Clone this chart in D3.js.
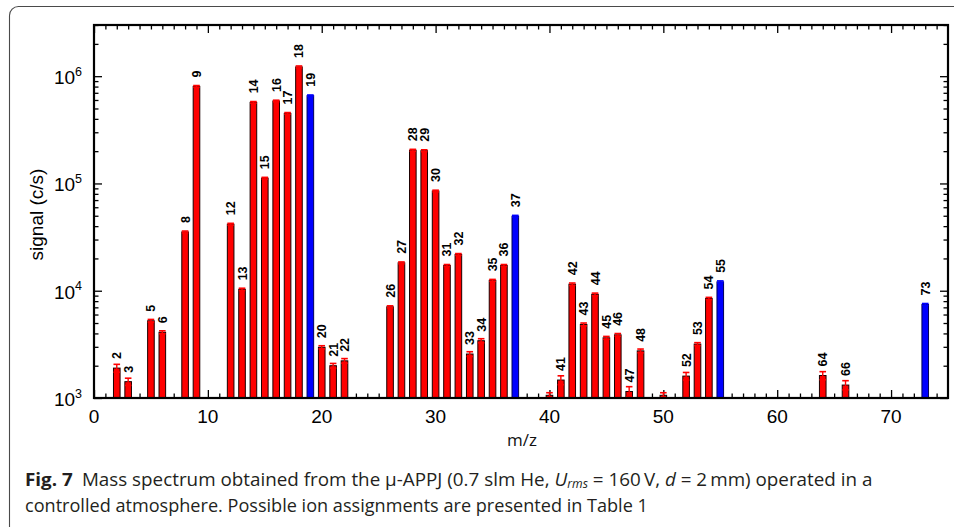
<!DOCTYPE html>
<html>
<head>
<meta charset="utf-8">
<script src="https://cdn.jsdelivr.net/npm/d3@7"></script>
<style>
  html, body { margin: 0; padding: 0; background: #fff; }
  svg { display: block; }
</style>
</head>
<body>
<svg id="chart" width="954" height="527"></svg>
<script>
// Mass spectrum: peak m/z, signal (counts/s) and uncertainty
const mz = [2, 3, 5, 6, 8, 9, 12, 13, 14, 15, 16, 17, 18, 19, 20, 21, 22,
            26, 27, 28, 29, 30, 31, 32, 33, 34, 35, 36, 37, 40, 41, 42, 43,
            44, 45, 46, 47, 48, 50, 52, 53, 54, 55, 64, 66, 73];
const signal = [1900, 1420, 5250, 4100, 35300, 803000, 41700, 10300, 570000, 112000,
                587000, 450000, 1220000, 658000, 2970, 2000, 2220,
                7080, 18200, 204000, 202000, 85000, 17200, 21800, 2570, 3420, 12500, 17200, 49500,
                1060, 1470, 11500, 4850, 9250, 3640, 3880, 1150, 2750, 1060,
                1600, 3180, 8470, 12100, 1620, 1320, 7450];
const signalErr = [160, 110, 150, 130, 700, 15000, 800, 250, 10000, 2000,
                   10000, 8000, 25000, 10000, 100, 100, 110,
                   150, 350, 4000, 4000, 1500, 350, 400, 130, 150, 250, 350, 900,
                   60, 140, 300, 150, 250, 110, 110, 125, 110, 60,
                   130, 100, 200, 250, 140, 130, 150];
// peaks without a number printed above them
const unlabeledMz = [40, 50];
// protonated water clusters H3O+(H2O)n
const waterClusterMz = [19, 37, 55, 73];

const xTickValues = [0, 10, 20, 30, 40, 50, 60, 70];
const yTickExponents = [3, 4, 5, 6];

const xTitle = "m/z";
const yTitle = "signal (c/s)";

const svg = d3.select("#chart");

// outer rounded frame of the figure panel
svg.append("rect")
  .attr("x", 9.5).attr("y", 6.5)
  .attr("width", 980).attr("height", 560)
  .attr("rx", 9).attr("ry", 9)
  .attr("fill", "none")
  .attr("stroke", "#4a4a4a")
  .attr("stroke-width", 1.1);

const plot = { left: 94, right: 948, top: 25, bottom: 398 };

const x = d3.scaleLinear().domain([0, 75]).range([plot.left, plot.right]);
const y = d3.scaleLog().domain([1e3, 3e6]).range([plot.bottom, plot.top]);

const majorY = yTickExponents.map(e => Math.pow(10, e));
const minorY = [];
yTickExponents.forEach(e => {
  for (let m = 2; m <= 9; m++) {
    const v = m * Math.pow(10, e);
    if (v <= 3e6) minorY.push(v);
  }
});
const minorX = d3.range(1, 75).filter(v => v % 10 !== 0);

const axisStyle = g => {
  g.select(".domain").remove();
  g.selectAll(".tick line").attr("stroke", "#000").attr("stroke-width", 1.3);
};

// inward-pointing ticks on all four sides
svg.append("g").attr("transform", `translate(0,${plot.bottom})`)
  .call(d3.axisBottom(x).tickValues(minorX).tickSize(-4.5).tickFormat(""))
  .call(axisStyle);
svg.append("g").attr("transform", `translate(0,${plot.bottom})`)
  .call(d3.axisBottom(x).tickValues(xTickValues).tickSize(-8).tickFormat(""))
  .call(axisStyle);
svg.append("g").attr("transform", `translate(0,${plot.top})`)
  .call(d3.axisTop(x).tickValues(minorX).tickSize(-4.5).tickFormat(""))
  .call(axisStyle);
svg.append("g").attr("transform", `translate(0,${plot.top})`)
  .call(d3.axisTop(x).tickValues(xTickValues).tickSize(-8).tickFormat(""))
  .call(axisStyle);
svg.append("g").attr("transform", `translate(${plot.left},0)`)
  .call(d3.axisLeft(y).tickValues(minorY).tickSize(-4.5).tickFormat(""))
  .call(axisStyle);
svg.append("g").attr("transform", `translate(${plot.left},0)`)
  .call(d3.axisLeft(y).tickValues(majorY).tickSize(-8).tickFormat(""))
  .call(axisStyle);
svg.append("g").attr("transform", `translate(${plot.right},0)`)
  .call(d3.axisRight(y).tickValues(minorY).tickSize(-4.5).tickFormat(""))
  .call(axisStyle);
svg.append("g").attr("transform", `translate(${plot.right},0)`)
  .call(d3.axisRight(y).tickValues(majorY).tickSize(-8).tickFormat(""))
  .call(axisStyle);

// x tick labels
svg.append("g").selectAll("text")
  .data(xTickValues).join("text")
  .attr("x", d => x(d))
  .attr("y", plot.bottom + 25)
  .attr("text-anchor", "middle")
  .attr("font-family", "'Liberation Sans', Arial, sans-serif")
  .attr("font-size", 19)
  .attr("fill", "#000")
  .text(d => d);

// y tick labels as powers of ten
const yLab = svg.append("g").selectAll("text")
  .data(yTickExponents).join("text")
  .attr("x", plot.left - 12)
  .attr("y", d => y(Math.pow(10, d)) + 8)
  .attr("text-anchor", "end")
  .attr("font-family", "'Liberation Sans', Arial, sans-serif")
  .attr("font-size", 19)
  .attr("fill", "#000");
yLab.append("tspan").text("10");
yLab.append("tspan").attr("dy", -8.5).attr("font-size", 12.5).text(d => d);

// axis titles
svg.append("text")
  .attr("transform", `translate(43,${(plot.top + plot.bottom) / 2 + 3}) rotate(-90)`)
  .attr("text-anchor", "middle")
  .attr("font-family", "'Liberation Sans', Arial, sans-serif")
  .attr("font-size", 19)
  .attr("fill", "#000")
  .text(yTitle);

svg.append("text")
  .attr("x", (plot.left + plot.right) / 2 + 1)
  .attr("y", 446)
  .attr("text-anchor", "middle")
  .attr("font-family", "'Open Sans', sans-serif")
  .attr("font-size", 17)
  .attr("fill", "#111")
  .text(xTitle);

// peaks
const peaks = mz.map((m, i) => ({
  mz: m, value: signal[i], err: signalErr[i],
  water: waterClusterMz.includes(m),
  labeled: !unlabeledMz.includes(m)
}));

const barW = x(0.58) - x(0);
const gBars = svg.append("g");

gBars.selectAll("rect")
  .data(peaks).join("rect")
  .attr("x", d => x(d.mz) - barW / 2)
  .attr("y", d => y(d.value))
  .attr("width", barW)
  .attr("height", d => y(1e3) - y(d.value))
  .attr("fill", d => d.water ? "#0000ff" : "#ff0000")
  .attr("stroke", d => d.water ? "#00005a" : "#1a0000")
  .attr("stroke-width", 1);

// error bars with caps
const gErr = svg.append("g");
peaks.forEach(d => {
  const col = d.water ? "#0000ff" : "#ff0000";
  const lo = Math.max(d.value - d.err, 1e3);
  const hi = d.value + d.err;
  const cx = x(d.mz);
  const cw = barW * 0.5;
  gErr.append("line")
    .attr("x1", cx).attr("x2", cx)
    .attr("y1", y(lo)).attr("y2", y(hi))
    .attr("stroke", col).attr("stroke-width", 1.4);
  gErr.append("line")
    .attr("x1", cx - cw).attr("x2", cx + cw)
    .attr("y1", y(hi)).attr("y2", y(hi))
    .attr("stroke", col).attr("stroke-width", 1.6);
  if (d.value - d.err > 1e3) {
    gErr.append("line")
      .attr("x1", cx - cw).attr("x2", cx + cw)
      .attr("y1", y(lo)).attr("y2", y(lo))
      .attr("stroke", col).attr("stroke-width", 1.6);
  }
});

// plot area border
svg.append("rect")
  .attr("x", plot.left).attr("y", plot.top)
  .attr("width", plot.right - plot.left)
  .attr("height", plot.bottom - plot.top)
  .attr("fill", "none")
  .attr("stroke", "#000")
  .attr("stroke-width", 2.2);

// m/z numbers above the peaks
svg.append("g").selectAll("text")
  .data(peaks.filter(d => d.labeled)).join("text")
  .attr("transform", d => `translate(${x(d.mz)},${y(d.value) - 9}) rotate(-90)`)
  .attr("dy", "0.36em")
  .attr("text-anchor", "start")
  .attr("font-family", "'Liberation Sans', Arial, sans-serif")
  .attr("font-weight", "bold")
  .attr("font-size", 12.5)
  .attr("fill", "#000")
  .text(d => d.mz);

// figure caption, two lines, each squeezed to the width of the narrower caption face
const capFont = "'Open Sans', 'Noto Sans', sans-serif";
const capLeft = 25;

const g1 = svg.append("g");
const line1 = g1.append("text")
  .attr("x", capLeft).attr("y", 486)
  .attr("font-family", capFont)
  .attr("font-size", 18.5)
  .attr("fill", "#231f20");
line1.append("tspan").attr("font-weight", "bold").text("Fig. 7");
line1.append("tspan").attr("dx", 9).text("Mass spectrum obtained from the \u03bc-APPJ (0.7 slm He, ");
line1.append("tspan").attr("font-style", "italic").text("U");
line1.append("tspan").attr("font-style", "italic").attr("font-size", 12).attr("dy", 2).text("rms");
line1.append("tspan").attr("dy", -2).text(" = 160\u2009V, ");
line1.append("tspan").attr("font-style", "italic").text("d");
line1.append("tspan").text(" = 2\u2009mm) operated in a");

const g2 = svg.append("g");
const line2 = g2.append("text")
  .attr("x", capLeft).attr("y", 512)
  .attr("font-family", capFont)
  .attr("font-size", 18.5)
  .attr("fill", "#231f20")
  .text("controlled atmosphere. Possible ion assignments are presented in Table 1");

const fitWidth = (g, textNode, target) => {
  const w = textNode.getBBox().width;
  g.attr("transform", `translate(${capLeft},0) scale(${target / w},1) translate(${-capLeft},0)`);
};
fitWidth(g1, line1.node(), 848);
fitWidth(g2, line2.node(), 623);
</script>
</body>
</html>
